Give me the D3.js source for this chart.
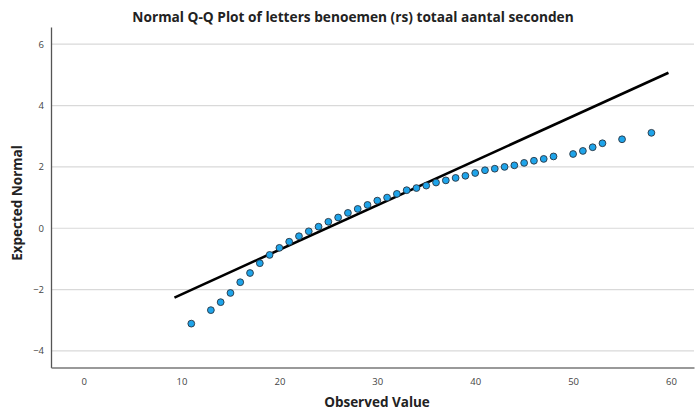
<!DOCTYPE html>
<html>
<head>
<meta charset="utf-8">
<script src="https://cdn.jsdelivr.net/npm/d3@7"></script>
<style>
  body { margin: 0; background: #fff; }
  svg text { font-family: "Open Sans", "DejaVu Sans", sans-serif; }
</style>
</head>
<body>
<svg id="chart" width="696" height="412"></svg>
<script>
"use strict";

var observed = [11, 13, 14, 15, 16, 17, 18, 19, 20, 21, 22, 23, 24, 25, 26, 27,
    28, 29, 30, 31, 32, 33, 34, 35, 36, 37, 38, 39, 40, 41, 42, 43, 44, 45,
    46, 47, 48, 50, 51, 52, 53, 55, 58];
var expected = [-3.11, -2.67, -2.41, -2.11, -1.76, -1.46, -1.14, -0.87, -0.64,
    -0.44, -0.26, -0.10, 0.05, 0.21, 0.35, 0.50, 0.63, 0.76, 0.90, 1.00, 1.12,
    1.24, 1.31, 1.39, 1.49, 1.56, 1.64, 1.71, 1.80, 1.89, 1.94, 2.00, 2.05,
    2.13, 2.20, 2.26, 2.34, 2.42, 2.52, 2.64, 2.77, 2.90, 3.11];

// reference line end points
var lineX = [9.28, 59.74];
var lineY = [-2.26, 5.07];

var xTicks = [0, 10, 20, 30, 40, 50, 60];
var yTicks = [-4, -2, 0, 2, 4, 6];

var svg = d3.select("#chart");

// plot area edges
var plot = { left: 51, right: 694, top: 27, bottom: 367.5 };

var x = d3.scaleLinear().domain([-3.33, 62.35]).range([plot.left, plot.right]);
var y = d3.scaleLinear().domain([-4.54, 6.56]).range([plot.bottom, plot.top]);

// gridlines
svg.append("g").selectAll("line")
    .data(yTicks)
    .enter()
    .append("line")
    .attr("x1", plot.left).attr("x2", plot.right)
    .attr("y1", function(d) { return y(d); })
    .attr("y2", function(d) { return y(d); })
    .attr("stroke", "#d9d9d9")
    .attr("stroke-width", 1.2);

// y axis
var yAxis = svg.append("g")
    .attr("transform", "translate(" + plot.left + ",0)")
    .call(d3.axisLeft(y).tickValues(yTicks).tickSize(0).tickPadding(7)
        .tickFormat(d3.format("d")));
yAxis.select(".domain").attr("stroke", "#555").attr("stroke-width", 1.3);
yAxis.selectAll("text").attr("font-size", 9.5).attr("fill", "#444");

// x axis
var xAxis = svg.append("g")
    .attr("transform", "translate(0," + plot.bottom + ")")
    .call(d3.axisBottom(x).tickValues(xTicks).tickSize(0).tickPadding(11)
        .tickFormat(d3.format("d")));
xAxis.select(".domain").attr("stroke", "#777").attr("stroke-width", 1.6);
xAxis.selectAll("text").attr("font-size", 9.5).attr("fill", "#444");

// reference line
svg.append("line")
    .attr("x1", x(lineX[0])).attr("y1", y(lineY[0]))
    .attr("x2", x(lineX[1])).attr("y2", y(lineY[1]))
    .attr("stroke", "#000")
    .attr("stroke-width", 2.6);

// points
svg.append("g").selectAll("circle")
    .data(observed)
    .enter()
    .append("circle")
    .attr("cx", function(d) { return x(d); })
    .attr("cy", function(d, i) { return y(expected[i]); })
    .attr("r", 3.4)
    .attr("fill", "#1ea4ea")
    .attr("stroke", "#2a3440")
    .attr("stroke-width", 0.9);

// title and axis labels
svg.append("text")
    .attr("x", 353).attr("y", 21.5)
    .attr("text-anchor", "middle")
    .attr("font-size", 13.7)
    .attr("font-weight", "bold")
    .attr("fill", "#222")
    .text("Normal Q-Q Plot of letters benoemen (rs) totaal aantal seconden");

svg.append("text")
    .attr("x", 377).attr("y", 407)
    .attr("text-anchor", "middle")
    .attr("font-size", 13.5)
    .attr("font-weight", "bold")
    .attr("fill", "#222")
    .text("Observed Value");

svg.append("text")
    .attr("transform", "translate(22,203) rotate(-90)")
    .attr("text-anchor", "middle")
    .attr("font-size", 13.5)
    .attr("font-weight", "bold")
    .attr("fill", "#222")
    .text("Expected Normal");
</script>
</body>
</html>
